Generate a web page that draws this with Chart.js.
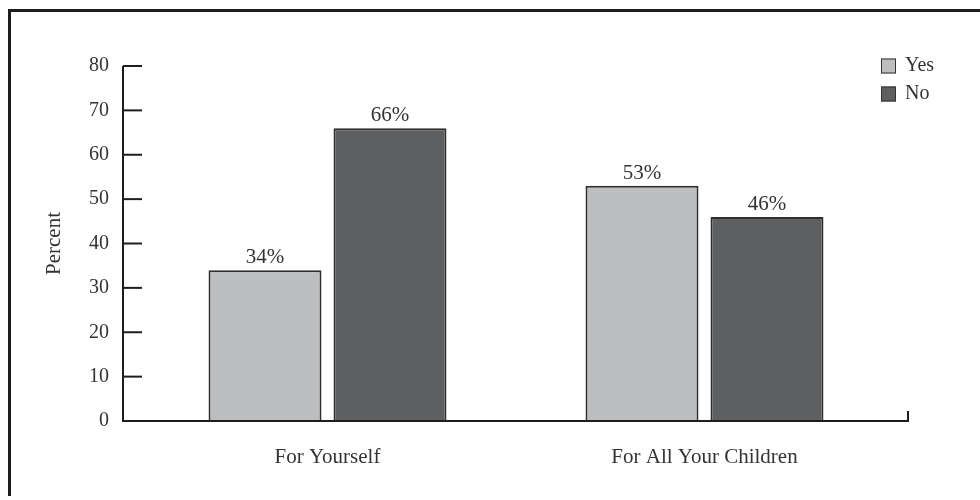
<!DOCTYPE html>
<html>
<head>
<meta charset="utf-8">
<script src="https://cdn.jsdelivr.net/npm/chart.js@4/dist/chart.umd.min.js"></script>
<style>
  html, body { margin: 0; padding: 0; background: #fff; overflow: hidden; }
  #wrap { position: relative; width: 980px; height: 500px; }
  #frame {
    position: absolute; left: 8px; top: 9px; right: 0; bottom: 4px;
    border-top: 3px solid #1e1e1e; border-left: 3px solid #1e1e1e;
    pointer-events: none;
  }
</style>
</head>
<body>
<div id="wrap">
  <canvas id="chart"></canvas>
  <div id="frame"></div>
</div>
<script>
// Данные графика
const categories = ['For Yourself', 'For All Your Children'];
const yesValues = [34, 53];
const noValues = [66, 46];
const seriesNames = ['Yes', 'No'];
const yTicks = [0, 10, 20, 30, 40, 50, 60, 70, 80];

const serif = "'Liberation Serif', 'DejaVu Serif', serif";
const textColor = '#333';

// Оси, засечки и подписи над столбцами
const axesPlugin = {
  id: 'axesPlugin',
  afterDraw(chart) {
    const ctx = chart.ctx;
    const area = chart.chartArea;
    const y = chart.scales.y;
    const axisX = area.left - 16;
    const endX = area.right + 15;
    ctx.save();
    ctx.strokeStyle = '#1e1e1e';
    ctx.lineWidth = 2;
    ctx.beginPath();
    ctx.moveTo(axisX, y.getPixelForValue(80));
    ctx.lineTo(axisX, area.bottom);
    ctx.lineTo(endX, area.bottom);
    ctx.lineTo(endX, area.bottom - 10);
    ctx.stroke();
    yTicks.forEach((v) => {
      const py = y.getPixelForValue(v);
      ctx.beginPath();
      ctx.moveTo(axisX, py);
      ctx.lineTo(axisX + 19, py);
      ctx.stroke();
    });
    ctx.restore();
  },
  afterDatasetsDraw(chart) {
    const ctx = chart.ctx;
    ctx.save();
    ctx.font = '21px ' + serif;
    ctx.fillStyle = textColor;
    ctx.textAlign = 'center';
    ctx.textBaseline = 'alphabetic';
    chart.data.datasets.forEach((ds, i) => {
      chart.getDatasetMeta(i).data.forEach((bar, j) => {
        ctx.fillText(ds.data[j] + '%', bar.x, bar.y - 7);
      });
    });
    ctx.restore();
  }
};

// Легенда в правом верхнем углу
const legendPlugin = {
  id: 'legendPlugin',
  afterDraw(chart) {
    const ctx = chart.ctx;
    const x = chart.chartArea.right - 12;
    ctx.save();
    ctx.font = '20px ' + serif;
    ctx.textBaseline = 'middle';
    chart.data.datasets.forEach((ds, i) => {
      const cy = 66 + i * 28;
      ctx.fillStyle = ds.backgroundColor;
      ctx.fillRect(x, cy - 7.5, 15, 15);
      ctx.strokeStyle = '#333';
      ctx.lineWidth = 1;
      ctx.strokeRect(x + 0.5, cy - 7, 14, 14);
      ctx.fillStyle = textColor;
      ctx.fillText(ds.label, x + 24, cy);
    });
    ctx.restore();
  }
};

const ctx = document.getElementById('chart').getContext('2d');
new Chart(ctx, {
  type: 'bar',
  data: {
    labels: categories,
    datasets: [
      {
        label: seriesNames[0],
        data: yesValues,
        backgroundColor: '#bdbec0',
        borderColor: '#2e2e2e',
        borderWidth: 2,
      },
      {
        label: seriesNames[1],
        data: noValues,
        backgroundColor: '#5d5f61',
        borderColor: '#2e2e2e',
        borderWidth: 2,
      },
    ],
  },
  options: {
    responsive: true,
    maintainAspectRatio: false,
    animation: false,
    layout: { padding: { top: 66, right: 87, bottom: 0, left: 0 } },
    categoryPercentage: 0.663,
    barPercentage: 0.904,
    plugins: {
      legend: { display: false },
      tooltip: { enabled: false },
    },
    scales: {
      x: {
        grid: { display: false },
        border: { display: false },
        ticks: {
          color: textColor,
          font: { family: serif, size: 21 },
          padding: 16,
        },
        afterFit(scale) { scale.height = 79; },
      },
      y: {
        min: 0,
        max: 80,
        grid: { display: false },
        border: { display: false },
        ticks: {
          stepSize: 10,
          color: textColor,
          font: { family: serif, size: 20 },
          padding: 22,
        },
        title: {
          display: true,
          text: 'Percent',
          color: textColor,
          font: { family: serif, size: 21 },
          padding: { top: 42, bottom: 0 },
        },
        afterFit(scale) { scale.width = 139; },
      },
    },
  },
  plugins: [axesPlugin, legendPlugin],
});
</script>
</body>
</html>
